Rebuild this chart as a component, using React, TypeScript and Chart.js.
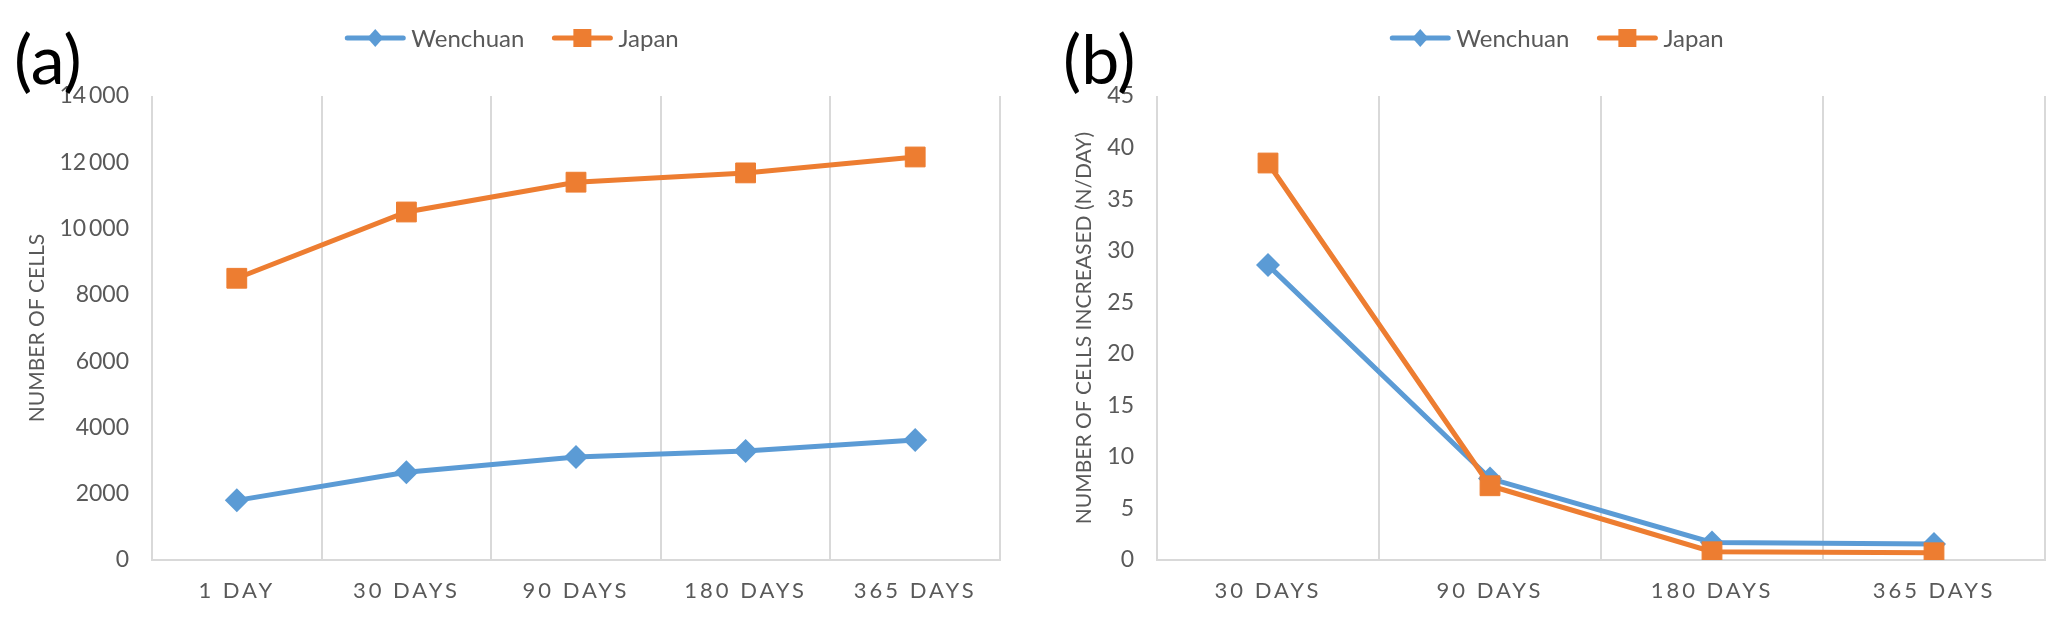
import React, { useEffect, useRef } from 'react';
import { Chart, registerables } from 'chart.js';

Chart.register(...registerables);

// ---------- data ----------
const seriesNames = ['Wenchuan', 'Japan'];
const daysA = ['1 DAY', '30 DAYS', '90 DAYS', '180 DAYS', '365 DAYS'];
const wenchuanA = [1800, 2650, 3110, 3290, 3620];
const japanA = [8500, 10500, 11400, 11680, 12160];

const daysB = ['30 DAYS', '90 DAYS', '180 DAYS', '365 DAYS'];
const wenchuanB = [28.6, 7.9, 1.7, 1.55];
const japanB = [38.5, 7.2, 0.8, 0.7];

const titleA = 'NUMBER OF CELLS';
const titleB = 'NUMBER OF CELLS INCREASED (N/DAY)';

const BLUE = '#5B9BD5';
const ORANGE = '#ED7D31';
const TEXT = '#595959';
const GRID = '#d9d9d9';
const FONT = 'Lato';

const panelPlugin = {
  id: 'panel',
  afterLayout(chart: any) {
    const xs: any = chart.scales.x;
    if (xs && !xs.__patched) {
      const orig = xs.drawLabels.bind(xs);
      xs.drawLabels = (area: any) => {
        const c: any = chart.ctx;
        c.save();
        c.letterSpacing = '3px';
        orig(area);
        c.restore();
      };
      xs.__patched = true;
    }
  },
  afterDraw(chart: any, _args: any, opts: any) {
    const ctx = chart.ctx;
    ctx.save();
    // panel label
    ctx.font = `68px ${FONT}`;
    ctx.fillStyle = '#000';
    ctx.textAlign = 'left';
    ctx.textBaseline = 'alphabetic';
    ctx.fillText(opts.label, opts.labelX, opts.labelY);

    // legend
    ctx.font = `24px ${FONT}`;
    const lineW = 60;
    const gap = 6;
    const itemGap = 28;
    const items = chart.data.datasets.map((ds: any) => ({
      text: ds.label,
      color: ds.borderColor,
      style: ds.pointStyle,
      w: ctx.measureText(ds.label).width,
    }));
    let total = 0;
    items.forEach((it: any, i: number) => {
      total += lineW + gap + it.w + (i > 0 ? itemGap : 0);
    });
    let x = opts.legendCenter - total / 2;
    const y = opts.legendY;
    items.forEach((it: any) => {
      ctx.strokeStyle = it.color;
      ctx.fillStyle = it.color;
      ctx.lineWidth = 5;
      ctx.lineCap = 'round';
      ctx.beginPath();
      ctx.moveTo(x + 2, y);
      ctx.lineTo(x + lineW - 2, y);
      ctx.stroke();
      const cx = x + lineW / 2;
      if (it.style === 'rect') {
        ctx.fillRect(cx - 9, y - 9, 18, 18);
      } else {
        ctx.beginPath();
        ctx.moveTo(cx, y - 9);
        ctx.lineTo(cx + 8, y);
        ctx.lineTo(cx, y + 9);
        ctx.lineTo(cx - 8, y);
        ctx.closePath();
        ctx.fill();
      }
      ctx.fillStyle = TEXT;
      ctx.textBaseline = 'middle';
      ctx.fillText(it.text, x + lineW + gap, y + 1);
      x += lineW + gap + it.w + itemGap;
    });
    ctx.restore();
  },
};

function fmt(v: number) {
  const s = String(v);
  return s.length > 4 ? s.slice(0, -3) + '\u2009' + s.slice(-3) : s;
}

type Cfg = {
  labels: string[];
  w: number[];
  j: number[];
  max: number;
  step: number;
  title: string;
  yWidth: number;
  titlePad: number;
  padRight: number;
  label: string;
  labelX: number;
  legendCenter: number;
};

function makeConfig(c: Cfg): any {
  return {
    type: 'line',
    data: {
      labels: c.labels,
      datasets: [
        {
          label: seriesNames[0],
          data: c.w,
          borderColor: BLUE,
          backgroundColor: BLUE,
          borderWidth: 5,
          pointStyle: 'rectRot',
          pointRadius: 12,
          pointBorderWidth: 0,
          pointBackgroundColor: BLUE,
          tension: 0,
          order: 1,
        },
        {
          label: seriesNames[1],
          data: c.j,
          borderColor: ORANGE,
          backgroundColor: ORANGE,
          borderWidth: 5,
          pointStyle: 'rect',
          pointRadius: 14,
          pointBorderWidth: 1,
          pointBorderColor: ORANGE,
          pointBackgroundColor: ORANGE,
          tension: 0,
          order: 0,
        },
      ],
    },
    options: {
      responsive: false,
      animation: false,
      layout: { padding: { top: 96, left: 0, right: c.padRight, bottom: 0 } },
      plugins: {
        legend: { display: false },
        tooltip: { enabled: false },
        panel: {
          label: c.label,
          labelX: c.labelX,
          labelY: 84,
          legendCenter: c.legendCenter,
          legendY: 38,
        },
      },
      scales: {
        x: {
          type: 'category',
          offset: true,
          grid: { display: true, offset: true, color: GRID, lineWidth: 2, drawTicks: false },
          border: { display: true, color: GRID, width: 2 },
          ticks: { color: TEXT, font: { family: FONT, size: 22 }, padding: 18, maxRotation: 0 },
          afterFit: (s: any) => {
            s.height = 61;
          },
        },
        y: {
          min: 0,
          max: c.max,
          grid: { display: false, drawTicks: false },
          border: { display: false },
          ticks: {
            stepSize: c.step,
            color: TEXT,
            font: { family: FONT, size: 23 },
            padding: 23,
            callback: (v: any) => fmt(v),
          },
          title: {
            display: true,
            text: c.title,
            color: TEXT,
            font: { family: FONT, size: 21 },
            padding: { top: c.titlePad, bottom: 0 },
          },
          afterFit: (s: any) => {
            s.width = c.yWidth;
          },
        },
      },
    },
    plugins: [panelPlugin],
  };
}

function ChartCanvas({ cfg, width, left }: { cfg: Cfg; width: number; left: number }) {
  const ref = useRef<HTMLCanvasElement | null>(null);
  useEffect(() => {
    if (!ref.current) return;
    const chart = new Chart(ref.current, makeConfig(cfg));
    return () => chart.destroy();
  }, []);
  return (
    <canvas
      ref={ref}
      width={width}
      height={621}
      style={{ position: 'absolute', left, top: 0, width, height: 621 }}
    />
  );
}

export default function App() {
  const cfgA: Cfg = {
    labels: daysA,
    w: wenchuanA,
    j: japanA,
    max: 14000,
    step: 2000,
    title: titleA,
    yWidth: 152,
    titlePad: 25,
    padRight: 33,
    label: '(a)',
    labelX: 14,
    legendCenter: 512,
  };
  const cfgB: Cfg = {
    labels: daysB,
    w: wenchuanB,
    j: japanB,
    max: 45,
    step: 5,
    title: titleB,
    yWidth: 124,
    titlePad: 39,
    padRight: 22,
    label: '(b)',
    labelX: 30,
    legendCenter: 524,
  };
  return (
    <div
      style={{
        position: 'absolute',
        left: 0,
        top: 0,
        width: 2067,
        height: 621,
        background: '#fff',
        overflow: 'hidden',
      }}
    >
      <ChartCanvas cfg={cfgA} width={1033} left={0} />
      <ChartCanvas cfg={cfgB} width={1034} left={1033} />
    </div>
  );
}
